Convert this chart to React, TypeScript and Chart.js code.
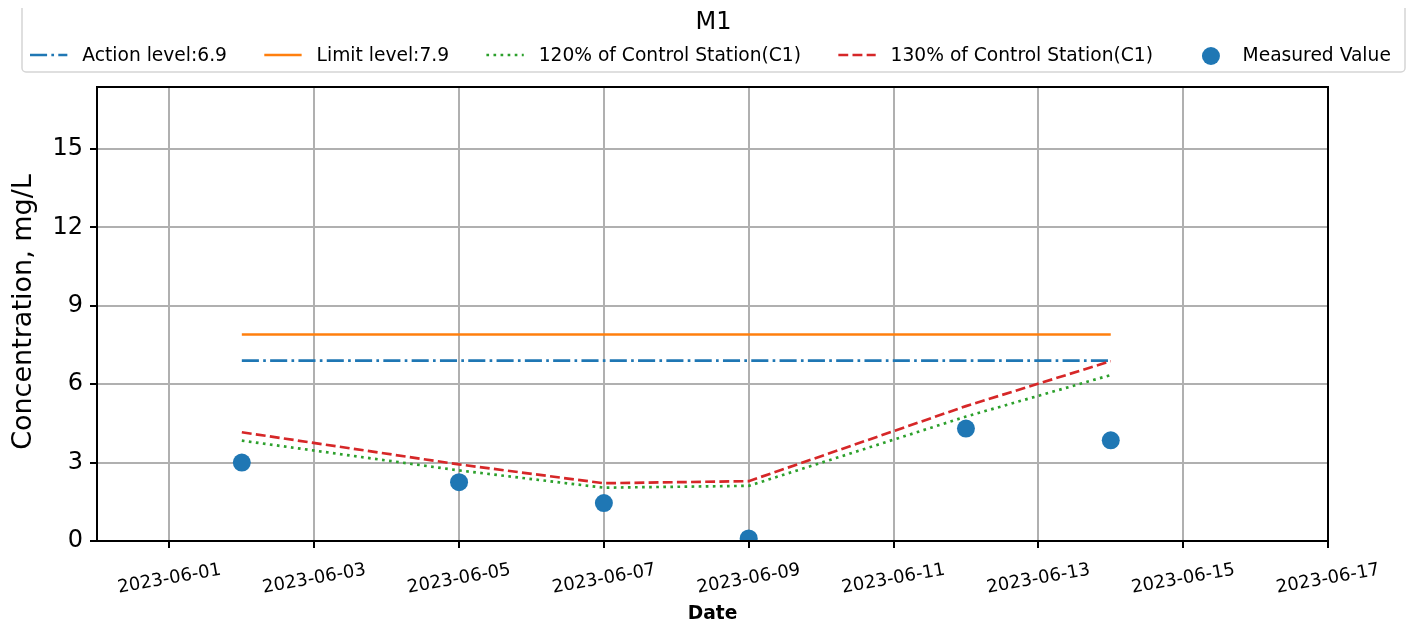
import React, { useEffect, useRef } from 'react';
import { Chart, registerables } from 'chart.js';

Chart.register(...registerables);

// ---- data ----
const dates = ['2023-06-02', '2023-06-05', '2023-06-07', '2023-06-09', '2023-06-12', '2023-06-14'];
const measuredValues = [3.0, 2.25, 1.45, 0.1, 4.3, 3.85];
const control120 = [3.84, 2.7, 2.04, 2.11, 4.76, 6.35];
const control130 = [4.16, 2.93, 2.21, 2.29, 5.16, 6.88];
const actionLevel = [6.9, 6.9, 6.9, 6.9, 6.9, 6.9];
const limitLevel = [7.9, 7.9, 7.9, 7.9, 7.9, 7.9];
const xTickLabels = [
  '2023-06-01', '2023-06-03', '2023-06-05', '2023-06-07', '2023-06-09',
  '2023-06-11', '2023-06-13', '2023-06-15', '2023-06-17',
];
const yTickValues = [0, 3, 6, 9, 12, 15];
const xRange = ['2023-05-31', '2023-06-17'];
const yRange = [0, 17.37];
const seriesLabels = [
  'Action level:6.9',
  'Limit level:7.9',
  '120% of Control Station(C1)',
  '130% of Control Station(C1)',
  'Measured Value',
];
const legendTitle = 'M1';
const xTitle = 'Date';
const yTitle = 'Concentration, mg/L';

// ---- styles ----
const FONT = '"DejaVu Sans", "Liberation Sans", sans-serif';
const COLORS = ['#1f77b4', '#ff7f0e', '#2ca02c', '#d62728', '#1f77b4'];
const LW = 2.67;
const DASHES: number[][] = [
  [6.4 * LW, 1.6 * LW, 1 * LW, 1.6 * LW],
  [],
  [1 * LW, 1.65 * LW],
  [3.7 * LW, 1.6 * LW],
  [],
];

const DAY = 86400000;
const BASE = Date.UTC(2023, 4, 31);
const toDay = (s: string) => {
  const [y, m, d] = s.split('-').map(Number);
  return (Date.UTC(y, m - 1, d) - BASE) / DAY;
};
const pts = (vals: number[]) => dates.map((d, i) => ({ x: toDay(d), y: vals[i] }));

const decorPlugin = {
  id: 'decor',
  afterDraw(chart: any) {
    const { ctx, chartArea: a, scales } = chart;
    const xs = scales.x;
    ctx.save();

    // spines
    ctx.strokeStyle = '#000';
    ctx.lineWidth = 2;
    ctx.setLineDash([]);
    ctx.strokeRect(a.left, a.top, a.right - a.left, a.bottom - a.top);

    // x tick labels (rotated, centered)
    ctx.fillStyle = '#000';
    ctx.font = `18px ${FONT}`;
    ctx.textAlign = 'center';
    ctx.textBaseline = 'middle';
    xTickLabels.forEach((l) => {
      const px = xs.getPixelForValue(toDay(l));
      ctx.save();
      ctx.translate(px, a.bottom + 38);
      ctx.rotate((-10 * Math.PI) / 180);
      ctx.fillText(l, 0, 0);
      ctx.restore();
    });

    // x title
    ctx.font = `bold 18.67px ${FONT}`;
    ctx.fillText(xTitle, (a.left + a.right) / 2, 614);

    // y title
    ctx.save();
    ctx.translate(31, (a.top + a.bottom) / 2 - 2);
    ctx.rotate(-Math.PI / 2);
    ctx.font = `27px ${FONT}`;
    ctx.textAlign = 'center';
    ctx.textBaseline = 'alphabetic';
    ctx.fillText(yTitle, 0, 0);
    ctx.restore();

    // legend box
    const bx = 22, by = 4, bw = 1383, bh = 68;
    ctx.beginPath();
    if (ctx.roundRect) ctx.roundRect(bx, by, bw, bh, 4);
    else ctx.rect(bx, by, bw, bh);
    ctx.fillStyle = 'rgba(255,255,255,0.8)';
    ctx.fill();
    ctx.strokeStyle = '#d5d5d5';
    ctx.lineWidth = 1.5;
    ctx.stroke();

    // legend title
    ctx.fillStyle = '#000';
    ctx.font = `24px ${FONT}`;
    ctx.textAlign = 'center';
    ctx.textBaseline = 'middle';
    ctx.fillText(legendTitle, bx + bw / 2, 23);

    // legend items
    const f = 18.67;
    ctx.font = `${f}px ${FONT}`;
    ctx.textAlign = 'left';
    let x = 30;
    const y = 55;
    seriesLabels.forEach((label, i) => {
      const hl = 2 * f;
      if (i === 4) {
        ctx.beginPath();
        ctx.fillStyle = COLORS[i];
        ctx.arc(x + hl / 2 + 2, y + 1, 9, 0, Math.PI * 2);
        ctx.fill();
      } else {
        ctx.beginPath();
        ctx.strokeStyle = COLORS[i];
        ctx.lineWidth = LW;
        ctx.lineCap = 'butt';
        ctx.setLineDash(DASHES[i]);
        ctx.moveTo(x, y);
        ctx.lineTo(x + hl, y);
        ctx.stroke();
        ctx.setLineDash([]);
      }
      const tx = x + hl + 0.8 * f;
      ctx.fillStyle = '#000';
      ctx.fillText(label, tx, y + 1);
      x = tx + ctx.measureText(label).width + 2 * f;
    });

    ctx.restore();
  },
};

export default function App() {
  const ref = useRef<HTMLCanvasElement | null>(null);

  useEffect(() => {
    if (!ref.current) return;
    const lineDs = (i: number, vals: number[], order: number) => ({
      label: seriesLabels[i],
      data: pts(vals),
      showLine: true,
      borderColor: COLORS[i],
      backgroundColor: COLORS[i],
      borderDash: DASHES[i],
      borderWidth: LW,
      borderCapStyle: 'butt',
      pointRadius: 0,
      pointHoverRadius: 0,
      tension: 0,
      fill: false,
      order,
    });
    const gridOpts = {
      color: '#b0b0b0',
      lineWidth: 2,
      drawTicks: true,
      tickLength: 7,
      tickColor: '#000',
      tickWidth: 2,
    };
    const chart = new Chart(ref.current, {
      type: 'scatter',
      data: {
        datasets: [
          lineDs(0, actionLevel, 5),
          lineDs(1, limitLevel, 4),
          lineDs(2, control120, 3),
          lineDs(3, control130, 2),
          {
            label: seriesLabels[4],
            data: pts(measuredValues),
            showLine: false,
            pointRadius: 9,
            pointHoverRadius: 9,
            pointBorderWidth: 0,
            borderWidth: 0,
            backgroundColor: COLORS[4],
            pointBackgroundColor: COLORS[4],
            order: 1,
          },
        ] as any,
      },
      options: {
        animation: false,
        responsive: false,
        devicePixelRatio: 1,
        events: [],
        layout: { padding: { top: 87, right: 86, left: 0, bottom: 0 } },
        plugins: {
          legend: { display: false },
          tooltip: { enabled: false },
          title: { display: false },
        },
        scales: {
          x: {
            type: 'linear',
            min: toDay(xRange[0]),
            max: toDay(xRange[1]),
            afterBuildTicks: (s: any) => {
              s.ticks = xTickLabels.map((l) => ({ value: toDay(l) }));
            },
            afterFit: (s: any) => {
              s.height = 88;
            },
            ticks: { display: false },
            grid: gridOpts,
            border: { display: false },
          },
          y: {
            type: 'linear',
            min: yRange[0],
            max: yRange[1],
            afterBuildTicks: (s: any) => {
              s.ticks = yTickValues.map((v) => ({ value: v }));
            },
            afterFit: (s: any) => {
              s.width = 97;
            },
            ticks: {
              color: '#000',
              font: { family: FONT, size: 24 },
              padding: 7,
              autoSkip: false,
              callback: (v: any) => String(v),
            },
            grid: gridOpts,
            border: { display: false },
          },
        },
      } as any,
      plugins: [decorPlugin],
    });
    return () => chart.destroy();
  }, []);

  return (
    <div style={{ margin: -8, width: 1414, height: 629 }}>
      <canvas ref={ref} width={1414} height={629} style={{ display: 'block' }} />
    </div>
  );
}
